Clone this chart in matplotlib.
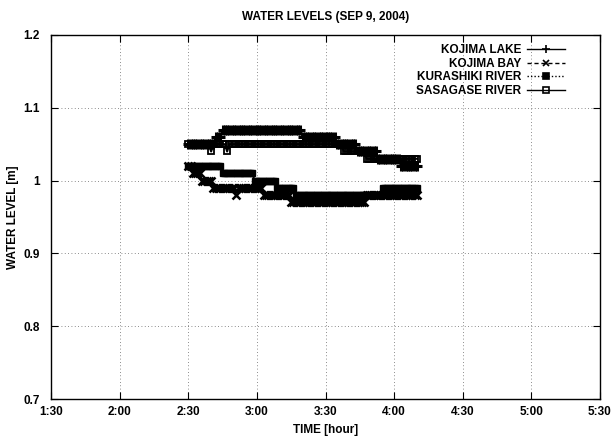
import matplotlib
matplotlib.use("Agg")
import matplotlib.pyplot as plt

plt.rcParams['font.family'] = ['Liberation Sans', 'DejaVu Sans']

# time stamps: minutes after 0:00, one reading per minute from 2:30 to 4:10
minutes = list(range(150, 251))

kojima_lake = [
    1.05, 1.05, 1.05, 1.05, 1.05, 1.05, 1.05, 1.05, 1.05, 1.05,
    1.05, 1.05, 1.06, 1.06, 1.06, 1.07, 1.07, 1.07, 1.07, 1.07,
    1.07, 1.07, 1.07, 1.07, 1.07, 1.07, 1.07, 1.07, 1.07, 1.07,
    1.07, 1.07, 1.07, 1.07, 1.07, 1.07, 1.07, 1.07, 1.07, 1.07,
    1.07, 1.07, 1.07, 1.07, 1.07, 1.07, 1.07, 1.07, 1.07, 1.07,
    1.06, 1.06, 1.06, 1.06, 1.06, 1.06, 1.06, 1.06, 1.06, 1.06,
    1.06, 1.06, 1.06, 1.06, 1.06, 1.05, 1.05, 1.05, 1.05, 1.05,
    1.05, 1.05, 1.05, 1.05, 1.04, 1.04, 1.04, 1.04, 1.04, 1.04,
    1.04, 1.04, 1.04, 1.03, 1.03, 1.03, 1.03, 1.03, 1.03, 1.03,
    1.03, 1.03, 1.03, 1.02, 1.02, 1.02, 1.02, 1.02, 1.02, 1.02,
    1.02,
]

kojima_bay = [
    1.02, 1.02, 1.01, 1.01, 1.01, 1.01, 1.00, 1.00, 1.00, 1.00,
    1.00, 0.99, 0.99, 0.99, 0.99, 0.99, 0.99, 0.99, 0.99, 0.99,
    0.99, 0.98, 0.99, 0.99, 0.99, 0.99, 0.99, 0.99, 0.99, 0.99,
    0.99, 0.99, 0.99, 0.98, 0.98, 0.98, 0.98, 0.98, 0.98, 0.98,
    0.98, 0.98, 0.98, 0.98, 0.98, 0.97, 0.97, 0.97, 0.97, 0.97,
    0.97, 0.97, 0.97, 0.97, 0.97, 0.97, 0.97, 0.97, 0.97, 0.97,
    0.97, 0.97, 0.97, 0.97, 0.97, 0.97, 0.97, 0.97, 0.97, 0.97,
    0.97, 0.97, 0.97, 0.97, 0.97, 0.97, 0.97, 0.97, 0.98, 0.98,
    0.98, 0.98, 0.98, 0.98, 0.98, 0.98, 0.98, 0.98, 0.98, 0.98,
    0.98, 0.98, 0.98, 0.98, 0.98, 0.98, 0.98, 0.98, 0.98, 0.98,
    0.98,
]

kurashiki_river = [
    1.02, 1.02, 1.02, 1.02, 1.02, 1.02, 1.02, 1.02, 1.02, 1.02,
    1.02, 1.02, 1.02, 1.02, 1.02, 1.01, 1.01, 1.01, 1.01, 1.01,
    1.01, 1.01, 1.01, 1.01, 1.01, 1.01, 1.01, 1.01, 1.01, 1.00,
    1.00, 1.00, 1.00, 1.00, 1.00, 1.00, 1.00, 1.00, 1.00, 0.99,
    0.99, 0.99, 0.99, 0.99, 0.99, 0.99, 0.99, 0.98, 0.98, 0.98,
    0.98, 0.98, 0.98, 0.98, 0.98, 0.98, 0.98, 0.98, 0.98, 0.98,
    0.98, 0.98, 0.98, 0.98, 0.98, 0.98, 0.98, 0.98, 0.98, 0.98,
    0.98, 0.98, 0.98, 0.98, 0.98, 0.98, 0.98, 0.98, 0.98, 0.98,
    0.98, 0.98, 0.98, 0.98, 0.98, 0.99, 0.99, 0.99, 0.99, 0.99,
    0.99, 0.99, 0.99, 0.99, 0.99, 0.99, 0.99, 0.99, 0.99, 0.99,
    0.99,
]

sasagase_river = [
    1.05, 1.05, 1.05, 1.05, 1.05, 1.05, 1.05, 1.05, 1.05, 1.05,
    1.04, 1.05, 1.05, 1.05, 1.05, 1.05, 1.05, 1.04, 1.05, 1.05,
    1.05, 1.05, 1.05, 1.05, 1.05, 1.05, 1.05, 1.05, 1.05, 1.05,
    1.05, 1.05, 1.05, 1.05, 1.05, 1.05, 1.05, 1.05, 1.05, 1.05,
    1.05, 1.05, 1.05, 1.05, 1.05, 1.05, 1.05, 1.05, 1.05, 1.05,
    1.05, 1.05, 1.05, 1.05, 1.05, 1.05, 1.05, 1.05, 1.05, 1.05,
    1.05, 1.05, 1.05, 1.05, 1.05, 1.05, 1.05, 1.05, 1.04, 1.04,
    1.04, 1.04, 1.04, 1.04, 1.04, 1.04, 1.04, 1.04, 1.03, 1.03,
    1.03, 1.03, 1.03, 1.03, 1.03, 1.03, 1.03, 1.03, 1.03, 1.03,
    1.03, 1.03, 1.03, 1.03, 1.03, 1.03, 1.03, 1.03, 1.03, 1.03,
    1.03,
]

series_labels = ["KOJIMA LAKE", "KOJIMA BAY", "KURASHIKI RIVER", "SASAGASE RIVER"]
x_ticks = [90, 120, 150, 180, 210, 240, 270, 300, 330]
x_tick_labels = ["1:30", "2:00", "2:30", "3:00", "3:30", "4:00", "4:30", "5:00", "5:30"]
y_ticks = [0.7, 0.8, 0.9, 1.0, 1.1, 1.2]
y_tick_labels = ["0.7", "0.8", "0.9", "1", "1.1", "1.2"]

fig = plt.figure(figsize=(6.11, 4.41), dpi=100)
ax = fig.add_axes([51 / 611, 1 - 399 / 441, 549 / 611, 364 / 441])

ax.plot(minutes, kojima_lake, color='black', lw=1.5, ls='-', marker='+',
        ms=7, mew=2.2, label=series_labels[0])
ax.plot(minutes, kojima_bay, color='black', lw=1.5, ls=(0, (3, 2)), marker='x',
        ms=5.5, mew=1.8, label=series_labels[1])
ax.plot(minutes, kurashiki_river, color='black', lw=1.5, ls=(0, (1, 1.5)), marker='s',
        ms=5, mew=1.0, mfc='black', label=series_labels[2])
ax.plot(minutes, sasagase_river, color='black', lw=1.5, ls='-', marker='s',
        ms=5, mew=1.3, mfc='none', label=series_labels[3])

ax.set_xlim(90, 330)
ax.set_ylim(0.7, 1.2)
ax.set_xticks(x_ticks)
ax.set_xticklabels(x_tick_labels)
ax.set_yticks(y_ticks)
ax.set_yticklabels(y_tick_labels)

ax.grid(True, color='black', lw=0.6, ls=(0, (1, 3)), alpha=0.6)
ax.tick_params(direction='in', top=True, right=True, length=5, width=0.8,
               labelsize=8.5)
ax.tick_params(axis='y', pad=8)
ax.tick_params(axis='x', pad=5)
for lab in ax.get_xticklabels() + ax.get_yticklabels():
    lab.set_fontweight('bold')
for sp in ax.spines.values():
    sp.set_linewidth(1.0)

ax.set_title("WATER LEVELS (SEP 9, 2004)", fontsize=8.5, fontweight='bold', pad=11)
ax.set_xlabel("TIME [hour]", fontsize=8.5, fontweight='bold', labelpad=4)
ax.set_ylabel("WATER LEVEL [m]", fontsize=8.5, fontweight='bold')
ax.yaxis.set_label_coords(-(51 - 19) / 549, 0.5)

leg = ax.legend(loc='upper right', frameon=False, markerfirst=False,
                prop={'size': 8.5, 'weight': 'bold'}, handlelength=3.2,
                handletextpad=0.5, labelspacing=0.12, borderaxespad=0.4,
                bbox_to_anchor=(1 - 26 / 549, 1.0), markerscale=0.8)
for h in leg.legend_handles:
    h.set_linewidth(1.0)
    h.set_markeredgewidth(1.2)
leg._legend_box.align = 'right'

fig.savefig("out.png", dpi=100)
